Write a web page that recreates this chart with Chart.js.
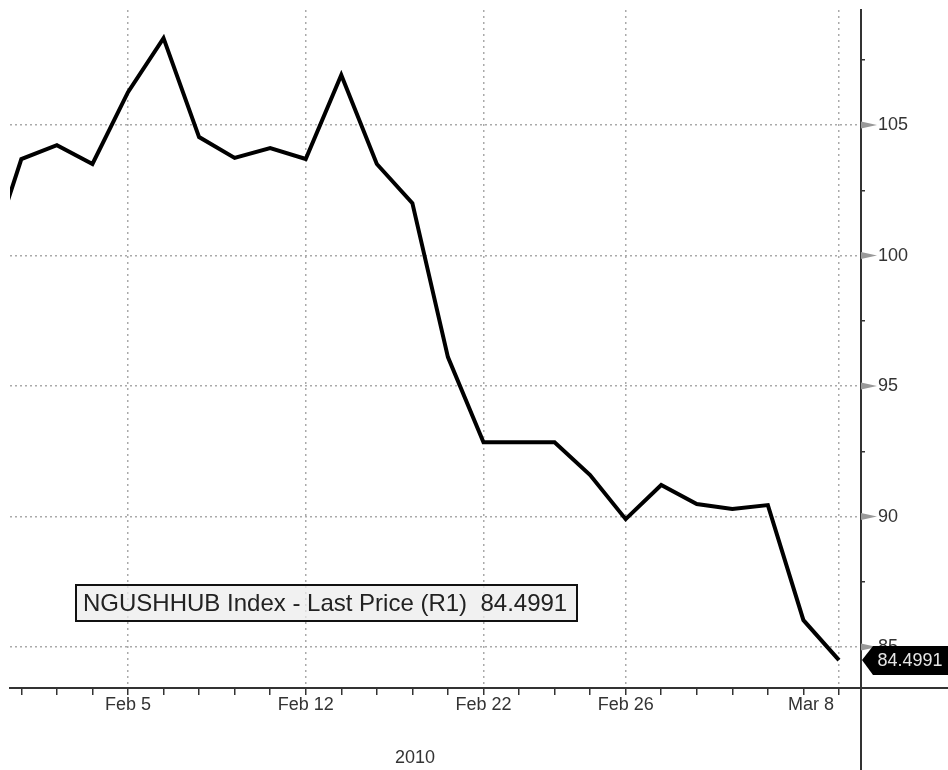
<!DOCTYPE html>
<html>
<head>
<meta charset="utf-8">
<script src="https://cdn.jsdelivr.net/npm/chart.js@4"></script>
<style>
  html, body { margin: 0; padding: 0; background: #fff; }
  canvas { display: block; }
</style>
</head>
<body>
<canvas id="priceChart" width="948" height="770"></canvas>
<script>
// NGUSHHUB Index, daily last price, Feb-Mar 2010
const days = ['Feb 1','Feb 2','Feb 3','Feb 4','Feb 5','Feb 8','Feb 9','Feb 10','Feb 11','Feb 12',
  'Feb 16','Feb 17','Feb 18','Feb 19','Feb 22','Feb 23','Feb 24','Feb 25','Feb 26',
  'Mar 1','Mar 2','Mar 3','Mar 4','Mar 5','Mar 8'];
const lastPrice = [99.5, 103.70, 104.23, 103.51, 106.26, 108.33, 104.54, 103.74, 104.12, 103.70,
  106.92, 103.51, 102.01, 96.11, 92.85, 92.85, 92.85, 91.59, 89.90,
  91.21, 90.48, 90.29, 90.44, 86.03, 84.4991];
const dateLabels = ['Feb 5', 'Feb 12', 'Feb 22', 'Feb 26', 'Mar 8'];
const yearLabel = '2010';
const priceTicks = [85, 87.5, 90, 92.5, 95, 97.5, 100, 102.5, 105, 107.5];
const seriesName = 'NGUSHHUB Index - Last Price (R1)';

const majorIdx = dateLabels.map(d => days.indexOf(d));
const lastVal = lastPrice[lastPrice.length - 1];
const FONT = '"Liberation Sans", Arial, sans-serif';

const extras = {
  id: 'extras',
  beforeDatasetsDraw(chart) {
    const {ctx} = chart;
    // legend box (under the line, over the grid)
    ctx.save();
    ctx.fillStyle = 'rgba(236,236,236,0.75)';
    ctx.fillRect(76, 585, 501, 36);
    ctx.strokeStyle = '#111';
    ctx.lineWidth = 2;
    ctx.strokeRect(76, 585, 501, 36);
    ctx.fillStyle = '#222';
    ctx.font = '24px ' + FONT;
    ctx.textBaseline = 'middle';
    ctx.fillText(seriesName + '  ' + lastVal.toFixed(4), 83, 604);
    ctx.restore();
  },
  afterDraw(chart) {
    const {ctx, chartArea} = chart;
    const x = chart.scales.x, y = chart.scales.y;
    ctx.save();
    // axis lines run on past the plot corner
    ctx.strokeStyle = '#333';
    ctx.lineWidth = 2;
    ctx.beginPath();
    ctx.moveTo(chartArea.right, chartArea.top);
    ctx.lineTo(chartArea.right, chart.height);
    ctx.moveTo(chartArea.left, chartArea.bottom);
    ctx.lineTo(chart.width, chartArea.bottom);
    ctx.stroke();

    // gray wedge markers on the major price ticks
    ctx.fillStyle = '#999';
    priceTicks.filter(v => v % 5 === 0).forEach(v => {
      const py = y.getPixelForValue(v);
      ctx.beginPath();
      ctx.moveTo(chartArea.right, py - 3.5);
      ctx.lineTo(chartArea.right + 16, py);
      ctx.lineTo(chartArea.right, py + 3.5);
      ctx.closePath();
      ctx.fill();
    });

    // date labels
    ctx.fillStyle = '#333';
    ctx.font = '18px ' + FONT;
    ctx.textBaseline = 'middle';
    dateLabels.forEach((d, i) => {
      const px = x.getPixelForValue(majorIdx[i]);
      if (i === dateLabels.length - 1) {
        ctx.textAlign = 'right';
        ctx.fillText(d, px - 5, 705);
      } else {
        ctx.textAlign = 'center';
        ctx.fillText(d, px, 705);
      }
    });
    ctx.textAlign = 'center';
    ctx.fillText(yearLabel, 415, 758);

    // last price tag
    const ty = y.getPixelForValue(lastVal);
    const tx = chartArea.right + 1;
    ctx.fillStyle = '#000';
    ctx.beginPath();
    ctx.moveTo(tx, ty);
    ctx.lineTo(tx + 11, ty - 14);
    ctx.lineTo(chart.width, ty - 14);
    ctx.lineTo(chart.width, ty + 15);
    ctx.lineTo(tx + 11, ty + 15);
    ctx.closePath();
    ctx.fill();
    ctx.fillStyle = '#e6e6e6';
    ctx.font = '18px ' + FONT;
    ctx.textAlign = 'center';
    ctx.fillText(lastVal.toFixed(4), 910, ty + 1);
    ctx.restore();
  }
};

new Chart(document.getElementById('priceChart'), {
  type: 'line',
  data: {
    datasets: [{
      label: seriesName,
      data: lastPrice.map((v, i) => ({x: i, y: v})),
      borderColor: '#000',
      borderWidth: 4,
      pointRadius: 0,
      tension: 0,
      clip: 0
    }]
  },
  options: {
    responsive: false,
    animation: false,
    devicePixelRatio: 1,
    layout: { padding: { top: 10, left: 10, right: 0, bottom: 0 } },
    plugins: { legend: { display: false }, tooltip: { enabled: false } },
    scales: {
      x: {
        type: 'linear',
        min: 0.681,
        max: 24.62,
        afterBuildTicks: s => { s.ticks = days.map((d, i) => ({value: i})).slice(1); },
        afterFit: s => { s.height = 82; s.paddingLeft = 0; s.paddingRight = 0; },
        ticks: { display: false },
        grid: {
          color: c => (c.tick && majorIdx.includes(c.tick.value)) ? '#aaa' : 'transparent',
          lineWidth: 1.5,
          tickColor: '#333',
          tickLength: 7,
          tickWidth: 1.5
        },
        border: { display: true, color: '#333', width: 2, dash: [2, 4] }
      },
      y: {
        type: 'linear',
        position: 'right',
        min: 83.43,
        max: 109.41,
        afterBuildTicks: s => { s.ticks = priceTicks.map(v => ({value: v})); },
        afterFit: s => { s.width = 87; s.paddingTop = 0; s.paddingBottom = 0; },
        ticks: {
          padding: 13,
          color: '#333',
          font: { family: FONT, size: 18 },
          callback: v => (v % 5 === 0 ? String(v) : '')
        },
        grid: {
          color: c => (c.tick && c.tick.value % 5 === 0) ? '#aaa' : 'transparent',
          lineWidth: 1.5,
          tickColor: c => (c.tick && c.tick.value % 5 === 0) ? 'transparent' : '#333',
          tickLength: 4,
          tickWidth: 1.5
        },
        border: { display: true, color: '#333', width: 2, dash: [2, 3] }
      }
    }
  },
  plugins: [extras]
});
</script>
</body>
</html>
